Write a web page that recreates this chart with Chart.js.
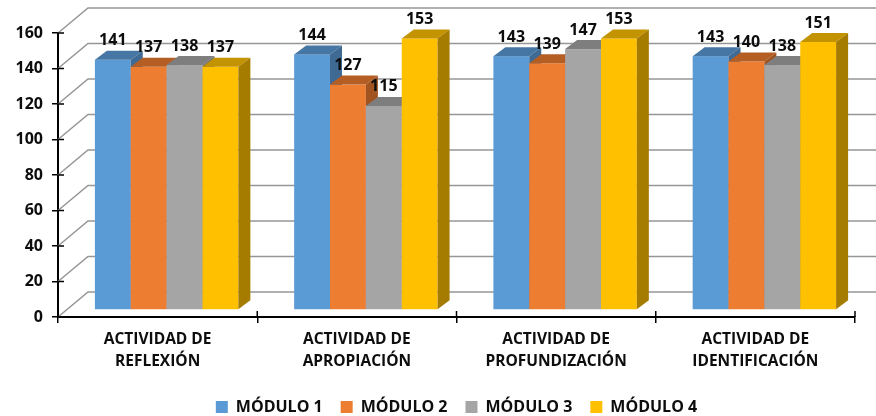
<!DOCTYPE html>
<html lang="es">
<head>
<meta charset="UTF-8">
<title>Actividades por módulo</title>
<style>
  html, body { margin: 0; padding: 0; background: #fff; }
  canvas { display: block; }
</style>
<script src="https://cdn.jsdelivr.net/npm/chart.js"></script>
</head>
<body>
<canvas id="chart" width="876" height="416"></canvas>
<script>
const categories = [
  ['ACTIVIDAD DE', 'REFLEXIÓN'],
  ['ACTIVIDAD DE', 'APROPIACIÓN'],
  ['ACTIVIDAD DE', 'PROFUNDIZACIÓN'],
  ['ACTIVIDAD DE', 'IDENTIFICACIÓN']
];
const seriesNames = ['MÓDULO 1', 'MÓDULO 2', 'MÓDULO 3', 'MÓDULO 4'];
const modulo1 = [141, 144, 143, 143];
const modulo2 = [137, 127, 139, 140];
const modulo3 = [138, 115, 147, 138];
const modulo4 = [137, 153, 153, 151];
const yTicks = [0, 20, 40, 60, 80, 100, 120, 140, 160];

// face colours: front, top, side
const frontColors = ['#5B9BD5', '#ED7D31', '#A5A5A5', '#FFC000'];
const topColors = ['#4676A3', '#B55E24', '#7E7E7E', '#C49300'];
const sideColors = ['#3E6A93', '#A25420', '#727272', '#A67C00'];

const FONT = '"Open Sans", sans-serif';
const INK = '#0d0d0d';
const WALL = { dx: 30, dy: -25 };   // back wall offset
const SHIFT = { dx: 9, dy: -7 };    // bars sit a little behind the front plane
const DEPTH = { dx: 12, dy: -9 };   // bar depth

// back wall grid + inner halves of the axis tick marks
const wallPlugin = {
  id: 'wall',
  beforeDatasetsDraw(chart) {
    const ctx = chart.ctx;
    const ys = chart.scales.y, xs = chart.scales.x;
    const left = chart.chartArea.left;
    const bottom = chart.chartArea.bottom;
    ctx.save();
    ctx.strokeStyle = '#969696';
    ctx.lineWidth = 1.5;
    yTicks.forEach(v => {
      const y = ys.getPixelForValue(v);
      ctx.beginPath();
      ctx.moveTo(left, y);
      ctx.lineTo(left + WALL.dx, y + WALL.dy);
      ctx.lineTo(chart.width, y + WALL.dy);
      ctx.stroke();
    });
    ctx.strokeStyle = '#000';
    ctx.lineWidth = 1.5;
    yTicks.forEach(v => {
      const y = ys.getPixelForValue(v);
      ctx.beginPath();
      ctx.moveTo(left, y);
      ctx.lineTo(left + 6, y);
      ctx.stroke();
    });
    for (let i = 0; i <= categories.length; i++) {
      const x = xs.getPixelForValue(i - 0.5);
      ctx.beginPath();
      ctx.moveTo(x, bottom);
      ctx.lineTo(x, bottom - 6);
      ctx.stroke();
    }
    ctx.restore();
  }
};

// bars drawn as boxes from the positions the bar controller computed
const boxPlugin = {
  id: 'box3d',
  beforeDatasetDraw() {
    return false;
  },
  afterDatasetsDraw(chart) {
    const ctx = chart.ctx;
    const sets = chart.data.datasets;
    const labels = [];
    ctx.save();
    for (let i = 0; i < categories.length; i++) {
      for (let d = 0; d < sets.length; d++) {
        const el = chart.getDatasetMeta(d).data[i];
        const p = el.getProps(['x', 'y', 'base', 'width'], true);
        const l = p.x - p.width / 2 + SHIFT.dx;
        const r = p.x + p.width / 2 + SHIFT.dx;
        const t = p.y + SHIFT.dy;
        const b = p.base + SHIFT.dy;

        ctx.fillStyle = frontColors[d];
        ctx.fillRect(l, t, r - l, b - t);

        ctx.fillStyle = topColors[d];
        ctx.beginPath();
        ctx.moveTo(l, t);
        ctx.lineTo(r, t);
        ctx.lineTo(r + DEPTH.dx, t + DEPTH.dy);
        ctx.lineTo(l + DEPTH.dx, t + DEPTH.dy);
        ctx.closePath();
        ctx.fill();

        ctx.fillStyle = sideColors[d];
        ctx.beginPath();
        ctx.moveTo(r, t);
        ctx.lineTo(r + DEPTH.dx, t + DEPTH.dy);
        ctx.lineTo(r + DEPTH.dx, b + DEPTH.dy);
        ctx.lineTo(r, b);
        ctx.closePath();
        ctx.fill();

        labels.push({ x: (l + r) / 2, y: t + DEPTH.dy - 10, text: String(sets[d].data[i]) });
      }
    }
    ctx.fillStyle = INK;
    ctx.font = 'bold 16px ' + FONT;
    ctx.textAlign = 'center';
    ctx.textBaseline = 'middle';
    labels.forEach(lb => ctx.fillText(lb.text, lb.x, lb.y));
    ctx.restore();
  }
};

const seriesData = [modulo1, modulo2, modulo3, modulo4];

new Chart(document.getElementById('chart'), {
  type: 'bar',
  data: {
    labels: categories,
    datasets: seriesNames.map((name, i) => ({
      label: name,
      data: seriesData[i],
      backgroundColor: frontColors[i],
      borderWidth: 0
    }))
  },
  options: {
    responsive: false,
    animation: false,
    devicePixelRatio: 1,
    datasets: { bar: { barPercentage: 1, categoryPercentage: 0.72 } },
    layout: { padding: { top: 33, right: 21, bottom: -9, left: 0 } },
    plugins: {
      tooltip: { enabled: false },
      legend: {
        position: 'bottom',
        fullSize: false,
        labels: {
          boxWidth: 12,
          boxHeight: 12,
          padding: 18,
          color: INK,
          font: { family: FONT, size: 16, weight: 'bold' }
        }
      }
    },
    scales: {
      x: {
        grid: { offset: true, drawOnChartArea: false, color: '#000', lineWidth: 1.5, tickLength: 6 },
        border: { color: '#000', width: 2 },
        ticks: {
          color: INK,
          padding: 6,
          maxRotation: 0,
          autoSkip: false,
          font: { family: FONT, size: 15.5, weight: 'bold', lineHeight: 1.42 }
        },
        afterFit(scale) { scale.height = 64; }
      },
      y: {
        min: 0,
        max: 160,
        grid: { drawOnChartArea: false, color: '#000', lineWidth: 1.5, tickLength: 6 },
        border: { color: '#000', width: 2 },
        ticks: {
          stepSize: 20,
          color: INK,
          padding: 9,
          font: { family: FONT, size: 16, weight: 'bold' }
        },
        afterFit(scale) { scale.width = 58; }
      }
    }
  },
  plugins: [wallPlugin, boxPlugin]
});
</script>
</body>
</html>
